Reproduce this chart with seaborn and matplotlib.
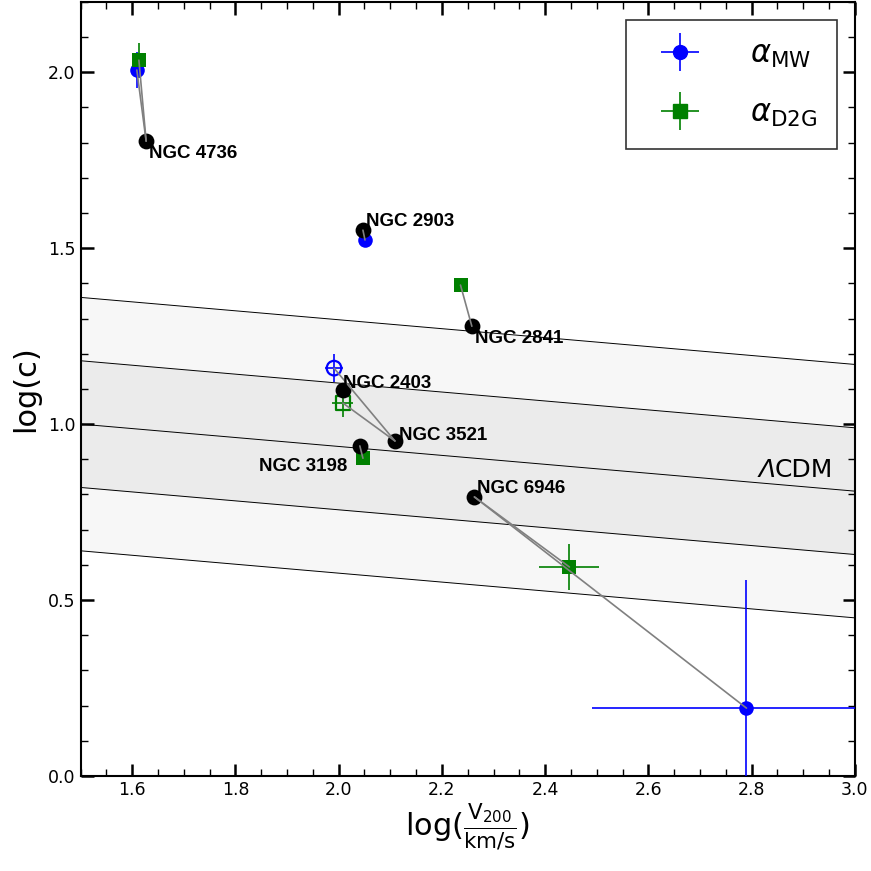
import numpy as np
import pandas as pd
import matplotlib
matplotlib.use("Agg")
import matplotlib.pyplot as plt
import seaborn as sns
from matplotlib.ticker import MultipleLocator
from matplotlib.legend_handler import HandlerErrorbar

# ---- data ----
galaxies = ["NGC 4736", "NGC 2903", "NGC 2841", "NGC 2403", "NGC 3521", "NGC 3198", "NGC 6946"]
ref_logv = [1.627, 2.047, 2.258, 2.008, 2.109, 2.041, 2.263]
ref_logc = [1.804, 1.551, 1.278, 1.097, 0.952, 0.938, 0.793]

mw_gal = ["NGC 4736", "NGC 2903", "NGC 3521", "NGC 6946"]
mw_logv = [1.609, 2.051, 1.991, 2.790]
mw_logc = [2.006, 1.523, 1.159, 0.193]
mw_xerr = [0.0, 0.0, 0.018, 0.30]
mw_yerr = [0.05, 0.0, 0.04, 0.365]
mw_open = [False, False, True, False]

d2g_gal = ["NGC 4736", "NGC 2841", "NGC 3521", "NGC 3198", "NGC 6946"]
d2g_logv = [1.613, 2.236, 2.008, 2.047, 2.447]
d2g_logc = [2.034, 1.395, 1.060, 0.903, 0.594]
d2g_xerr = [0.0, 0.0, 0.02, 0.0, 0.058]
d2g_yerr = [0.05, 0.0, 0.04, 0.0, 0.065]
d2g_open = [False, False, True, False, False]

# LCDM relation: center at log V = 1.5 and slope, band half-widths
lcdm_x = [1.5, 3.0]
lcdm_c0 = 1.0
lcdm_slope = -0.127
lcdm_sig = [0.18, 0.36]

label_offsets = {"NGC 4736": (2, -9, "left"), "NGC 2903": (2, 6, "left"),
                 "NGC 2841": (2, -9, "left"), "NGC 2403": (0, 5, "left"),
                 "NGC 3521": (3, 4, "left"), "NGC 3198": (-9, -15, "right"),
                 "NGC 6946": (2, 6, "left")}

sns.set_theme(style="white")
plt.rcParams["font.family"] = ["DejaVu Sans"]
plt.rcParams["mathtext.fontset"] = "dejavusans"
plt.rcParams["text.color"] = "black"
plt.rcParams["axes.labelcolor"] = "black"
plt.rcParams["xtick.color"] = "black"
plt.rcParams["ytick.color"] = "black"

fig = plt.figure(figsize=(8.71, 8.71), dpi=100)
ax = fig.add_axes([0.0925, 0.109, 0.889, 0.889])

# LCDM bands
xs = np.array(lcdm_x)
cen = lcdm_c0 + lcdm_slope * (xs - 1.5)
ax.fill_between(xs, cen - lcdm_sig[1], cen + lcdm_sig[1], color="#f7f7f7", zorder=0, lw=0)
ax.fill_between(xs, cen - lcdm_sig[0], cen + lcdm_sig[0], color="#ebebeb", zorder=0, lw=0)
for off in [-lcdm_sig[1], -lcdm_sig[0], 0, lcdm_sig[0], lcdm_sig[1]]:
    ax.plot(xs, cen + off, color="black", lw=0.7, zorder=1)
ax.text(2.847, 0.869, "Λ", fontsize=18, fontstyle="italic", ha="right", va="center")
ax.text(2.845, 0.869, "CDM", fontsize=18, ha="left", va="center")

ref = pd.DataFrame({"gal": galaxies, "x": ref_logv, "y": ref_logc}).set_index("gal")

# error bars
ax.errorbar(mw_logv, mw_logc, xerr=mw_xerr, yerr=mw_yerr, fmt="none", ecolor="blue", elinewidth=1.2, capsize=0, zorder=3)
ax.errorbar(d2g_logv, d2g_logc, xerr=d2g_xerr, yerr=d2g_yerr, fmt="none", ecolor="green", elinewidth=1.2, capsize=0, zorder=3)

# points
mw_df = pd.DataFrame({"x": mw_logv, "y": mw_logc, "open": mw_open})
d2g_df = pd.DataFrame({"x": d2g_logv, "y": d2g_logc, "open": d2g_open})
sns.scatterplot(data=mw_df[~mw_df["open"]], x="x", y="y", ax=ax, marker="o", s=110, color="blue", edgecolor="blue", linewidth=0, zorder=4, legend=False)
sns.scatterplot(data=mw_df[mw_df["open"]], x="x", y="y", ax=ax, marker="o", s=110, facecolor="none", edgecolor="blue", linewidth=1.6, zorder=4, legend=False)
sns.scatterplot(data=d2g_df[~d2g_df["open"]], x="x", y="y", ax=ax, marker="s", s=110, color="green", edgecolor="green", linewidth=0, zorder=4, legend=False)
sns.scatterplot(data=d2g_df[d2g_df["open"]], x="x", y="y", ax=ax, marker="s", s=110, facecolor="none", edgecolor="green", linewidth=1.6, zorder=4, legend=False)
sns.scatterplot(data=ref.reset_index(), x="x", y="y", ax=ax, marker="o", s=130, color="black", edgecolor="black", linewidth=0, zorder=5, legend=False)

# connecting lines (drawn over the points, as in the reference)
for g, x, y in zip(mw_gal + d2g_gal, mw_logv + d2g_logv, mw_logc + d2g_logc):
    ax.plot([ref.loc[g, "x"], x], [ref.loc[g, "y"], y], color="gray", lw=1.2, zorder=6)

for g in galaxies:
    dx, dy, ha = label_offsets[g]
    ax.annotate(g, (ref.loc[g, "x"], ref.loc[g, "y"]), xytext=(dx, dy), textcoords="offset points",
                fontsize=13.5, fontweight="bold", family=["Liberation Sans", "DejaVu Sans"],
                ha=ha, va="center", zorder=7)

ax.set_xlim(1.5, 3.0)
ax.set_ylim(0.0, 2.2)
ax.xaxis.set_major_locator(MultipleLocator(0.2))
ax.xaxis.set_minor_locator(MultipleLocator(0.05))
ax.yaxis.set_major_locator(MultipleLocator(0.5))
ax.yaxis.set_minor_locator(MultipleLocator(0.1))
ax.tick_params(which="both", direction="in", top=True, right=True, bottom=True, left=True, labelsize=12.5, color="black")
ax.tick_params(which="major", length=9, width=1.8)
ax.tick_params(which="minor", length=5, width=1.0)
for sp in ax.spines.values():
    sp.set_color("black")
    sp.set_linewidth(1.5)

ax.set_xlabel(r"log$(\frac{\mathrm{V}_{200}}{\mathrm{km/s}})$", fontsize=22, labelpad=2)
ax.set_ylabel("log(c)", fontsize=22, labelpad=6)

h1 = ax.errorbar([], [], xerr=[], yerr=[], fmt="o", color="blue", markersize=10, elinewidth=1.2)
h2 = ax.errorbar([], [], xerr=[], yerr=[], fmt="s", color="green", markersize=10, elinewidth=1.2)
leg = ax.legend([h1, h2], [r"$\alpha_{\mathrm{MW}}$", r"$\alpha_{\mathrm{D2G}}$"], loc="upper right",
                fontsize=22, frameon=True, fancybox=False, edgecolor="black", borderpad=0.65,
                handlelength=2.2, labelspacing=0.95, handletextpad=1.2, borderaxespad=0,
                bbox_to_anchor=(0.977, 0.977),
                handler_map={type(h1): HandlerErrorbar(xerr_size=0.62)})
leg.get_frame().set_linewidth(1.2)

fig.savefig("out.png", dpi=100)
